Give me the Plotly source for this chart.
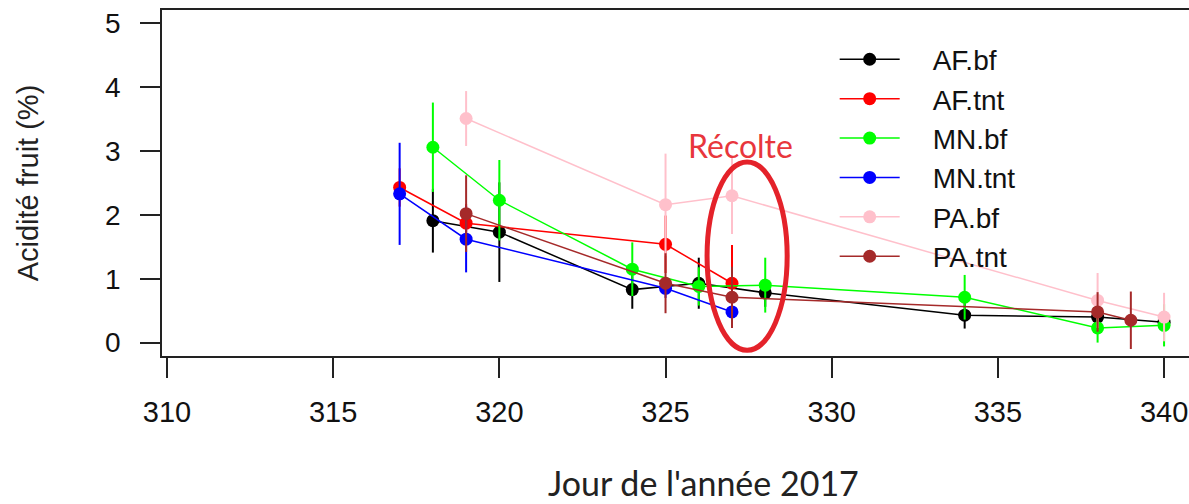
import plotly.graph_objects as go

# ---- data ----
AF_bf_day = [318, 320, 324, 326, 328, 334, 338, 340]
AF_bf = [1.91, 1.73, 0.83, 0.93, 0.78, 0.43, 0.40, 0.32]
AF_bf_err = [0.50, 0.78, 0.30, 0.40, 0.22, 0.21, 0.15, 0.10]

AF_tnt_day = [317, 319, 325, 327]
AF_tnt = [2.43, 1.87, 1.54, 0.93]
AF_tnt_err = [0.30, 0.30, 0.45, 0.60]

MN_bf_day = [318, 320, 324, 326, 328, 334, 338, 340]
MN_bf = [3.06, 2.23, 1.15, 0.88, 0.90, 0.71, 0.23, 0.27]
MN_bf_err = [0.70, 0.63, 0.42, 0.30, 0.43, 0.35, 0.23, 0.33]

MN_tnt_day = [317, 319, 325, 327]
MN_tnt = [2.33, 1.62, 0.85, 0.48]
MN_tnt_err = [0.80, 0.52, 0.15, 0.12]

PA_bf_day = [319, 325, 327, 338, 340]
PA_bf = [3.51, 2.16, 2.30, 0.66, 0.40]
PA_bf_err = [0.43, 0.80, 0.60, 0.43, 0.38]

PA_tnt_day = [319, 325, 327, 338, 339]
PA_tnt = [2.02, 0.93, 0.71, 0.48, 0.35]
PA_tnt_err = [0.60, 0.47, 0.48, 0.31, 0.45]

series_names = ["AF.bf", "AF.tnt", "MN.bf", "MN.tnt", "PA.bf", "PA.tnt"]
series_colors = ["#000000", "#FF0000", "#00FF00", "#0000FF", "#FFC0CB", "#A52A2A"]
series_days = [AF_bf_day, AF_tnt_day, MN_bf_day, MN_tnt_day, PA_bf_day, PA_tnt_day]
series_vals = [AF_bf, AF_tnt, MN_bf, MN_tnt, PA_bf, PA_tnt]
series_errs = [AF_bf_err, AF_tnt_err, MN_bf_err, MN_tnt_err, PA_bf_err, PA_tnt_err]

x_ticks = [310, 315, 320, 325, 330, 335, 340]
y_ticks = [0, 1, 2, 3, 4, 5]

x_title = "Jour de l'année 2017"
y_title = "Acidité fruit (%)"
harvest_label = "Récolte"

fig = go.Figure()
for name, col, d, v, e in zip(series_names, series_colors, series_days, series_vals, series_errs):
    fig.add_trace(go.Scatter(
        x=d, y=v, name="\u2002\u2002" + name, mode="lines+markers",
        line=dict(color=col, width=1.5),
        marker=dict(color=col, size=13),
        error_y=dict(type="data", array=e, visible=True, width=0, thickness=2, color=col),
    ))

# harvest ellipse
fig.add_shape(type="circle", xref="x", yref="y",
              x0=326.25, x1=328.66, y0=-0.12, y1=2.83,
              line=dict(color="#E4222A", width=5))
fig.add_annotation(x=327.25, y=3.08, xref="x", yref="y", text=harvest_label,
                   showarrow=False, font=dict(family="Lato", size=32, color="#E8363C"))
fig.add_annotation(x=0.527, y=-0.365, xref="paper", yref="paper", text=x_title,
                   showarrow=False, yanchor="middle",
                   font=dict(family="Lato", size=34, color="#222222"))

fig.update_layout(
    width=1189, height=504,
    margin=dict(l=162, r=0, t=10, b=148),
    paper_bgcolor="white", plot_bgcolor="white",
    showlegend=True,
    legend=dict(x=0.655, y=0.929, xanchor="left", yanchor="top",
                bgcolor="rgba(0,0,0,0)", itemwidth=60,
                font=dict(family="Liberation Sans, Arial", size=28, color="#111111")),
    xaxis=dict(range=[309.85, 340.75], tickvals=x_ticks, ticks="outside", ticklen=20,
               tickwidth=1.5, tickcolor="#222", showline=True, linecolor="#222",
               linewidth=1.5, mirror=True, showgrid=False, zeroline=False,
               ticklabelstandoff=9, ticklabeloverflow="allow",
               tickfont=dict(family="Liberation Sans, Arial", size=29, color="#111")),
    yaxis=dict(range=[-0.21, 5.21], tickvals=y_ticks, ticks="outside", ticklen=20,
               tickwidth=1.5, tickcolor="#222", showline=True, linecolor="#222",
               linewidth=1.5, mirror=False, showgrid=False, zeroline=False,
               ticklabelstandoff=14,
               tickfont=dict(family="Liberation Sans, Arial", size=28, color="#111"),
               title=dict(text=y_title, standoff=58,
                          font=dict(family="Liberation Sans, Arial", size=29, color="#222"))),
)

fig.write_html("out.html")
